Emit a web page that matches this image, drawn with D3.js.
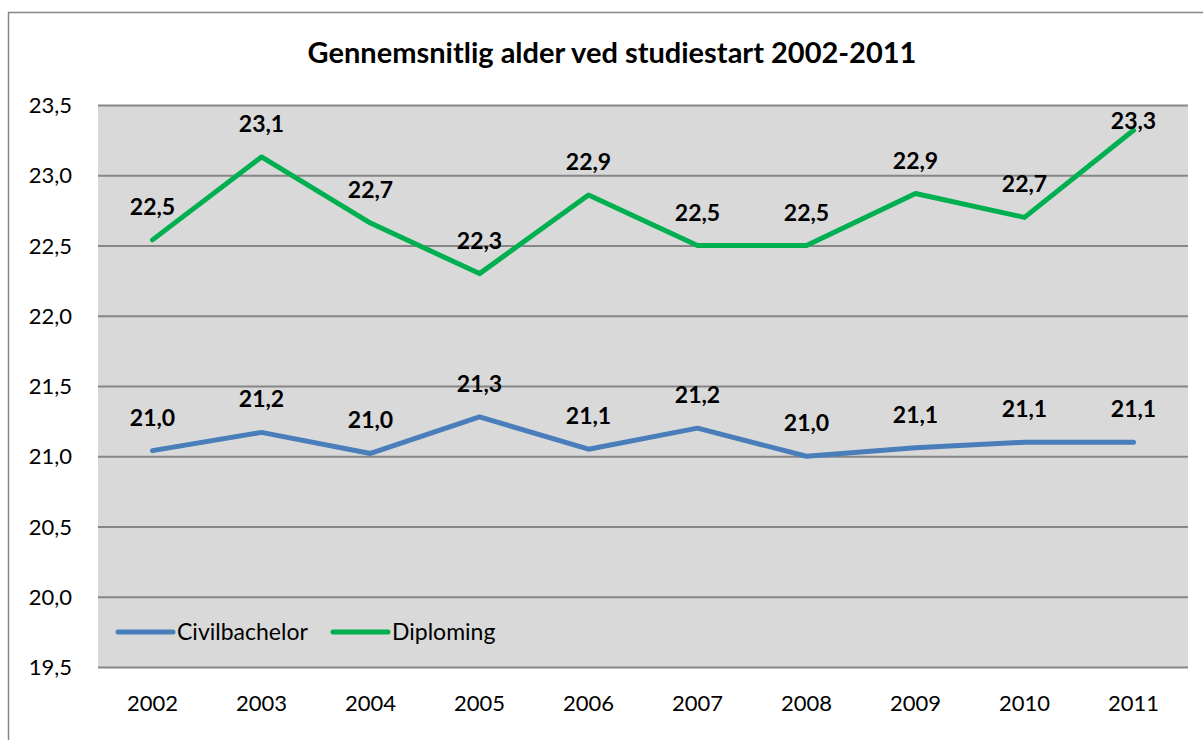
<!DOCTYPE html>
<html lang="da">
<head>
    <meta charset="UTF-8">
    <title>Gennemsnitlig alder ved studiestart 2002-2011</title>
    <style>
        body { margin: 0; background: #fff; }
        text { font-family: Lato, "Open Sans", sans-serif; fill: #000; }
        .line { fill: none; stroke-width: 5; stroke-linejoin: round; stroke-linecap: round; }
    </style>
</head>
<body>
    <svg id="container" width="1203" height="740"></svg>
<script src="https://cdn.jsdelivr.net/npm/d3@7"></script>
<script>

let years = ["2002", "2003", "2004", "2005", "2006", "2007", "2008", "2009", "2010", "2011"]
let civilbachelor = [21.04, 21.17, 21.02, 21.28, 21.05, 21.2, 21.0, 21.06, 21.1, 21.1]
let diploming = [22.54, 23.13, 22.66, 22.3, 22.86, 22.5, 22.5, 22.87, 22.7, 23.32]
let yTicks = [19.5, 20.0, 20.5, 21.0, 21.5, 22.0, 22.5, 23.0, 23.5]

let series = [
    { name: "Civilbachelor", values: civilbachelor, color: "#4a7ebb" },
    { name: "Diploming", values: diploming, color: "#00b050" }
]

let svg = d3.select("#container")

// outer chart border
svg.append("rect")
    .attr("x", 8.5).attr("y", 12.5)
    .attr("width", 1300).attr("height", 800)
    .attr("fill", "#fff")
    .attr("stroke", "#868686")
    .attr("stroke-width", 1.5)

svg.append("text")
    .attr("x", 612).attr("y", 63)
    .attr("text-anchor", "middle")
    .style("font-size", "29px")
    .style("font-weight", "bold")
    .text("Gennemsnitlig alder ved studiestart 2002-2011")

let plotLeft = 98, plotTop = 105, plotWidth = 1090, plotHeight = 562
let body = svg.append("g").attr("transform", "translate(" + plotLeft + "," + plotTop + ")")

let xScale = d3.scaleBand().domain(years).range([0, plotWidth])
let yScale = d3.scaleLinear().domain([19.5, 23.5]).range([plotHeight, 0])
let comma = d => d3.format(".1f")(d).replace(".", ",")

body.append("rect")
    .attr("width", plotWidth).attr("height", plotHeight)
    .attr("fill", "#d9d9d9")

body.append("g")
    .call(d3.axisLeft(yScale).tickValues(yTicks).tickSize(-plotWidth).tickFormat(comma).tickPadding(26))
    .call(g => g.select(".domain").remove())
    .call(g => g.selectAll("line").attr("stroke", "#868686").attr("stroke-width", 2))
    .call(g => g.selectAll("text").style("font-size", "22px").attr("dy", "0.35em"))

body.append("g")
    .attr("transform", "translate(0," + plotHeight + ")")
    .call(d3.axisBottom(xScale).tickSize(0).tickPadding(28))
    .call(g => g.select(".domain").remove())
    .call(g => g.selectAll("text").style("font-size", "22px"))

let line = d3.line()
    .x((d, i) => xScale(years[i]) + xScale.bandwidth() / 2)
    .y(d => yScale(d))

series.forEach(s => {
    body.append("path")
        .datum(s.values)
        .attr("class", "line")
        .attr("stroke", s.color)
        .attr("d", line)

    // labels sit above the point but stay inside the plot area
    body.append("g").selectAll("text")
        .data(s.values)
        .join("text")
        .attr("x", (d, i) => xScale(years[i]) + xScale.bandwidth() / 2)
        .attr("y", d => Math.max(yScale(d) - 25, 24))
        .attr("text-anchor", "middle")
        .style("font-size", "23px")
        .style("font-weight", "bold")
        .text(comma)
})

// legend
let legend = body.append("g").attr("transform", "translate(0," + (632 - plotTop) + ")")
let legendX = [20, 235]
series.forEach((s, i) => {
    legend.append("line")
        .attr("x1", legendX[i]).attr("x2", legendX[i] + 55)
        .attr("stroke", s.color).attr("stroke-width", 5).attr("stroke-linecap", "round")
    legend.append("text")
        .attr("x", legendX[i] + 59).attr("dy", "0.35em")
        .style("font-size", "23px")
        .text(s.name)
})

</script>
</body>
</html>
